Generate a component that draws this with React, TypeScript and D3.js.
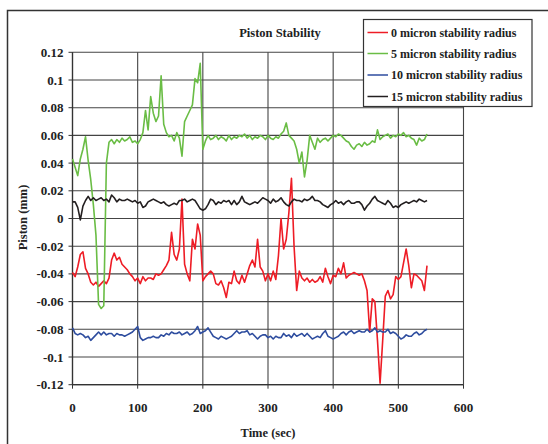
import React from "react";
import * as d3 from "d3";

const STEP = 4; // seconds between samples

const red0 = [
  -0.039, -0.042, -0.035, -0.026, -0.024, -0.036, -0.040, -0.046, -0.048, -0.046,
  -0.049, -0.047, -0.045, -0.047, -0.043, -0.030, -0.025, -0.030, -0.028, -0.033,
  -0.035, -0.037, -0.040, -0.042, -0.045, -0.043, -0.047, -0.042, -0.045, -0.043,
  -0.043, -0.044, -0.040, -0.041, -0.040, -0.037, -0.034, -0.030, -0.010, -0.026,
  -0.030, -0.022, 0.014, -0.033, -0.040, -0.045, -0.015, -0.022, -0.004, -0.012,
  -0.045, -0.042, -0.040, -0.038, -0.040, -0.047, -0.048, -0.045, -0.050, -0.057,
  -0.046, -0.047, -0.038, -0.045, -0.047, -0.041, -0.046, -0.040, -0.034, -0.030,
  -0.035, -0.015, -0.035, -0.038, -0.045, -0.040, -0.045, -0.038, -0.044, -0.027,
  0.000, -0.022, -0.015, 0.004, 0.029, -0.020, -0.052, -0.038, -0.043, -0.045,
  -0.043, -0.046, -0.044, -0.046, -0.045, -0.042, -0.046, -0.036, -0.042, -0.047,
  -0.041, -0.042, -0.036, -0.040, -0.032, -0.043, -0.041, -0.040, -0.039, -0.040,
  -0.041, -0.040, -0.045, -0.052, -0.082, -0.058, -0.060, -0.088, -0.119, -0.088,
  -0.056, -0.052, -0.058, -0.055, -0.042, -0.044, -0.042, -0.032, -0.022, -0.034,
  -0.050, -0.040, -0.041, -0.043, -0.045, -0.052, -0.034,
];

const green5 = [
  0.043, 0.037, 0.031, 0.043, 0.050, 0.059, 0.042, 0.028, 0.010, -0.012,
  -0.062, -0.065, -0.063, 0.040, 0.055, 0.057, 0.054, 0.057, 0.055, 0.058,
  0.056, 0.057, 0.059, 0.055, 0.056, 0.054, 0.057, 0.062, 0.078, 0.064,
  0.088, 0.076, 0.070, 0.074, 0.103, 0.068, 0.062, 0.059, 0.060, 0.056,
  0.062, 0.058, 0.045, 0.070, 0.074, 0.078, 0.082, 0.101, 0.098, 0.112,
  0.050, 0.056, 0.060, 0.057, 0.058, 0.060, 0.057, 0.059, 0.058, 0.056,
  0.060, 0.057, 0.059, 0.058, 0.060, 0.059, 0.061, 0.058, 0.060, 0.057,
  0.059, 0.058, 0.060, 0.059, 0.057, 0.060, 0.058, 0.057, 0.059, 0.058,
  0.061, 0.063, 0.069, 0.060, 0.058, 0.056, 0.050, 0.040, 0.048, 0.030,
  0.042, 0.060, 0.055, 0.050, 0.058, 0.055, 0.057, 0.058, 0.056, 0.058,
  0.060, 0.059, 0.061, 0.060, 0.058, 0.056, 0.055, 0.052, 0.050, 0.053,
  0.054, 0.052, 0.055, 0.053, 0.054, 0.056, 0.055, 0.064, 0.057, 0.059,
  0.060, 0.061, 0.058, 0.060, 0.059, 0.061, 0.060, 0.062, 0.059, 0.060,
  0.058, 0.057, 0.053, 0.058, 0.056, 0.057, 0.061,
];

const blue10 = [
  -0.079, -0.083, -0.084, -0.083, -0.084, -0.086, -0.085, -0.088, -0.086, -0.084,
  -0.082, -0.084, -0.082, -0.084, -0.083, -0.083, -0.085, -0.083, -0.084, -0.084,
  -0.085, -0.084, -0.083, -0.082, -0.080, -0.078, -0.086, -0.088, -0.087, -0.086,
  -0.086, -0.085, -0.086, -0.086, -0.084, -0.085, -0.083, -0.084, -0.082, -0.083,
  -0.083, -0.082, -0.084, -0.083, -0.082, -0.084, -0.083, -0.081, -0.078, -0.083,
  -0.082, -0.081, -0.079, -0.082, -0.085, -0.086, -0.087, -0.085, -0.086, -0.087,
  -0.086, -0.085, -0.083, -0.081, -0.083, -0.082, -0.082, -0.081, -0.084, -0.083,
  -0.085, -0.087, -0.085, -0.084, -0.084, -0.086, -0.085, -0.087, -0.085, -0.086,
  -0.086, -0.083, -0.085, -0.084, -0.086, -0.083, -0.085, -0.084, -0.083, -0.085,
  -0.083, -0.085, -0.087, -0.086, -0.085, -0.086, -0.083, -0.081, -0.085, -0.086,
  -0.087, -0.086, -0.085, -0.083, -0.082, -0.084, -0.082, -0.081, -0.083, -0.082,
  -0.081, -0.082, -0.082, -0.080, -0.082, -0.081, -0.079, -0.082, -0.081, -0.082,
  -0.082, -0.080, -0.083, -0.082, -0.083, -0.085, -0.087, -0.086, -0.084, -0.085,
  -0.085, -0.083, -0.082, -0.084, -0.083, -0.081, -0.080,
];

const black15 = [
  0.012, 0.012, 0.008, -0.001, 0.009, 0.013, 0.016, 0.013, 0.015, 0.013,
  0.014, 0.015, 0.013, 0.014, 0.012, 0.017, 0.015, 0.012, 0.014, 0.013,
  0.013, 0.014, 0.013, 0.012, 0.013, 0.011, 0.012, 0.008, 0.009, 0.012,
  0.013, 0.014, 0.013, 0.012, 0.011, 0.012, 0.010, 0.009, 0.010, 0.011,
  0.010, 0.013, 0.013, 0.014, 0.012, 0.013, 0.014, 0.013, 0.010, 0.007,
  0.006, 0.007, 0.010, 0.014, 0.013, 0.010, 0.012, 0.011, 0.013, 0.012,
  0.013, 0.010, 0.013, 0.010, 0.012, 0.016, 0.012, 0.011, 0.010, 0.011,
  0.012, 0.011, 0.013, 0.015, 0.014, 0.013, 0.011, 0.014, 0.012, 0.013,
  0.015, 0.012, 0.010, 0.009, 0.012, 0.014, 0.013, 0.013, 0.012, 0.014,
  0.013, 0.014, 0.016, 0.013, 0.013, 0.012, 0.010, 0.009, 0.008, 0.010,
  0.011, 0.013, 0.011, 0.012, 0.010, 0.012, 0.013, 0.011, 0.011, 0.012,
  0.012, 0.010, 0.006, 0.009, 0.011, 0.014, 0.016, 0.013, 0.012, 0.011,
  0.010, 0.013, 0.011, 0.008, 0.009, 0.008, 0.010, 0.011, 0.012, 0.011,
  0.012, 0.013, 0.012, 0.014, 0.013, 0.012, 0.013,
];

const seriesNames = [
  "0 micron stability radius",
  "5 micron stability radius",
  "10 micron stability radius",
  "15 micron stability radius",
];
const seriesColors = ["#ee1c25", "#6abd45", "#2e4d9f", "#231f20"];
const seriesData = [red0, green5, blue10, black15];

const xTicks = [0, 100, 200, 300, 400, 500, 600];
const yTicks = [-0.12, -0.1, -0.08, -0.06, -0.04, -0.02, 0, 0.02, 0.04, 0.06, 0.08, 0.1, 0.12];

const FONT = "'Liberation Serif', 'Times New Roman', serif";

export default function App() {
  const x = d3.scaleLinear().domain([0, 600]).range([72.5, 463.5]);
  const y = d3.scaleLinear().domain([-0.12, 0.12]).range([384.7, 52.3]);
  const line = d3
    .line<number>()
    .x((_, i) => x(i * STEP))
    .y((d) => y(d));

  const fmtY = (v: number) => {
    const s = (Math.round(v * 100) / 100).toFixed(2);
    const r = s.replace(/0+$/, "").replace(/\.$/, "");
    return r === "-0" ? "0" : r;
  };

  const legendX = 363.5;
  const legendY = 19.5;
  const legendRows = [32.5, 53.5, 75, 96.5];

  return (
    <svg
      width={548}
      height={444}
      style={{ position: "absolute", left: 0, top: 0, background: "#fff" }}
      fontFamily={FONT}
      fontWeight="bold"
    >
      <rect x={0} y={0} width={548} height={444} fill="#fff" />
      <rect x={7.5} y={10.5} width={600} height={500} fill="none" stroke="#333" strokeWidth={1.5} />

      {/* grid */}
      {yTicks.map((t) => (
        <line key={"gy" + t} x1={x(0)} x2={x(600)} y1={y(t)} y2={y(t)} stroke="#444" strokeWidth={1.1} />
      ))}
      {xTicks.map((t) => (
        <line key={"gx" + t} x1={x(t)} x2={x(t)} y1={y(0.12)} y2={y(-0.12)} stroke="#444" strokeWidth={1.1} />
      ))}
      {/* axes */}
      <line x1={x(0)} x2={x(0)} y1={y(0.12)} y2={y(-0.12)} stroke="#333" strokeWidth={1.3} />
      <line x1={x(0)} x2={x(600)} y1={y(-0.12)} y2={y(-0.12)} stroke="#333" strokeWidth={1.3} />
      {yTicks.map((t) => (
        <line key={"ty" + t} x1={x(0) - 4} x2={x(0)} y1={y(t)} y2={y(t)} stroke="#333" strokeWidth={1} />
      ))}
      {xTicks.map((t) => (
        <line key={"tx" + t} x1={x(t)} x2={x(t)} y1={y(-0.12)} y2={y(-0.12) + 4} stroke="#333" strokeWidth={1} />
      ))}

      {/* series */}
      {seriesData.map((d, i) => (
        <path
          key={"s" + i}
          d={line(d) || ""}
          fill="none"
          stroke={seriesColors[i]}
          strokeWidth={1.6}
          strokeLinejoin="round"
        />
      ))}

      {/* tick labels */}
      {yTicks.map((t) => (
        <text key={"ly" + t} x={x(0) - 9} y={y(t)} dy="0.35em" textAnchor="end" fontSize={13} fill="#222">
          {fmtY(t)}
        </text>
      ))}
      {xTicks.map((t) => (
        <text key={"lx" + t} x={x(t)} y={407} dy="0.35em" textAnchor="middle" fontSize={13} fill="#222">
          {t}
        </text>
      ))}

      {/* titles */}
      <text x={280} y={33} dy="0.35em" textAnchor="middle" fontSize={12.5} fill="#222">
        Piston Stability
      </text>
      <text x={268} y={432.5} dy="0.35em" textAnchor="middle" fontSize={12.5} fill="#222">
        Time (sec)
      </text>
      <text
        transform={`translate(22.5,217.5) rotate(-90)`}
        dy="0.35em"
        textAnchor="middle"
        fontSize={12.5}
        fill="#222"
      >
        Piston (mm)
      </text>

      {/* legend */}
      <rect x={legendX} y={legendY} width={168.5} height={87} fill="#fff" stroke="#333" strokeWidth={1.2} />
      {seriesNames.map((n, i) => (
        <g key={"lg" + i}>
          <line x1={367.5} x2={388} y1={legendRows[i]} y2={legendRows[i]} stroke={seriesColors[i]} strokeWidth={1.5} />
          <text x={391} y={legendRows[i]} dy="0.35em" fontSize={12} fill="#222">
            {n}
          </text>
        </g>
      ))}
    </svg>
  );
}
